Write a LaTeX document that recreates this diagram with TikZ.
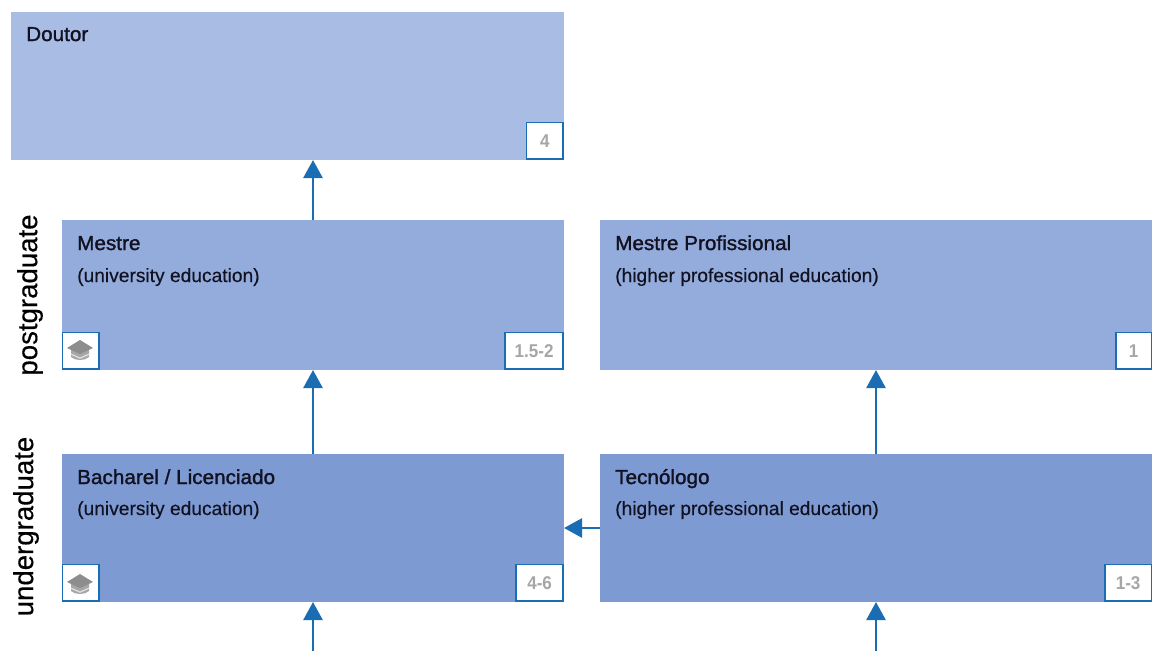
\documentclass[tikz,border=0pt]{standalone}
\usepackage{fontspec}
\setmainfont{Liberation Sans}
\newfontfamily\titlefont[FakeBold=1.4,FakeStretch=1.025]{Liberation Sans}
\newfontfamily\subfont[FakeBold=0.3]{Liberation Sans}
\newfontfamily\sidefont[FakeBold=0.4]{Liberation Sans}
\newfontfamily\numfont[FakeStretch=0.92]{Liberation Sans Bold}
\usetikzlibrary{arrows.meta,positioning}
\definecolor{boxA}{HTML}{A9BCE4}
\definecolor{boxB}{HTML}{94ACDB}
\definecolor{boxC}{HTML}{7D9AD2}
\definecolor{linkblue}{HTML}{1A6DB3}
\definecolor{numgrey}{HTML}{A6A6A6}
\definecolor{inktext}{HTML}{111122}
\tikzset{
  stage/.style={draw=none,inner sep=0pt,outer sep=0pt,anchor=north west},
  badge/.style={draw=linkblue,fill=white,line width=1.6pt,inner sep=0pt,outer sep=0pt,anchor=south east,minimum height=36.6pt,font=\numfont\fontsize{18.5}{20}\selectfont,text=numgrey},
  capbadge/.style={draw=linkblue,fill=white,line width=1.6pt,inner sep=0pt,outer sep=0pt,anchor=south west,minimum width=36.6pt,minimum height=36.6pt},
  title/.style={anchor=base west,inner sep=0pt,font=\titlefont\fontsize{20.2}{24}\selectfont,text=inktext},
  subtitle/.style={anchor=base west,inner sep=0pt,font=\subfont\fontsize{19.2}{23}\selectfont,text=inktext},
  side/.style={anchor=center,rotate=90,inner sep=0pt,font=\sidefont\fontsize{27.6}{30}\selectfont,text=black},
  link/.style={draw=linkblue,line width=2.6pt,-{Triangle[length=18pt,width=19pt]}}
}
\newcommand{\capicon}[2]{%
  \begin{scope}[shift={(#1,#2)}]
    \fill[numgrey] (-9,0) -- (-9,7) .. controls (-5,11) and (5,11) .. (9,7) -- (9,0) -- cycle;
    \fill[white!70!numgrey] (-9,3.5) -- (0,7.5) -- (9,3.5) -- (9,4.8) -- (0,8.8) -- (-9,4.8) -- cycle;
    \fill[numgrey!85!black] (-13,-2) -- (0,-10) -- (13,-2) -- (0,4) -- cycle;
  \end{scope}}
\begin{document}
\begin{tikzpicture}[x=1pt,y=-1pt]
\useasboundingbox (0,0) rectangle (1152,651);
\node[stage,fill=boxA,minimum width=553pt,minimum height=148pt] (doutor) at (11,12) {};
\node[stage,fill=boxB,minimum width=502pt,minimum height=150pt] (mestre) at (62,220) {};
\node[stage,fill=boxB,minimum width=552pt,minimum height=150pt] (mprof) at (600,220) {};
\node[stage,fill=boxC,minimum width=502pt,minimum height=148pt] (bach) at (62,454) {};
\node[stage,fill=boxC,minimum width=552pt,minimum height=148pt] (tec) at (600,454) {};

\node[title] (t1) at (26,41) {Doutor};
\node[title] (t2) at (77,250) {Mestre};
\node[subtitle] (s2) at (77,282) {(university education)};
\node[title] (t3) at (615,250) {Mestre Profissional};
\node[subtitle] (s3) at (615,282) {(higher professional education)};
\node[title] (t4) at (77,484) {Bacharel / Licenciado};
\node[subtitle] (s4) at (77,515) {(university education)};
\node[title] (t5) at (615,484) {Tecnólogo};
\node[subtitle] (s5) at (615,515) {(higher professional education)};

\node[badge,minimum width=36.6pt] (b1) at (563.2,159.2) {4};
\node[badge,minimum width=58.2pt] (b2) at (563.2,369.2) {1.5-2};
\node[badge,minimum width=35.5pt] (b3) at (1151.4,369.2) {1};
\node[badge,minimum width=47.2pt] (b4) at (563.2,601.2) {4-6};
\node[badge,minimum width=46.5pt] (b5) at (1151.4,601.2) {1-3};

\node[capbadge] (c1) at (62.5,369.2) {};
\node[capbadge] (c2) at (62.5,601.2) {};
\capicon{80}{350}
\capicon{80}{584}

\node[side] (post) at (30,295) {postgraduate};
\node[side] (under) at (26,526.5) {undergraduate};

\coordinate (in1) at (bach.south |- 0,651);
\coordinate (in2) at (tec.south |- 0,651);
\draw[link] (mestre.north) -- (mestre.north |- doutor.south);
\draw[link] (bach.north) -- (mestre.south);
\draw[link] (tec.north) -- (mprof.south);
\draw[link] (tec.west) -- (bach.east);
\draw[link] (in1) -- (bach.south);
\draw[link] (in2) -- (tec.south);
\end{tikzpicture}
\end{document}
